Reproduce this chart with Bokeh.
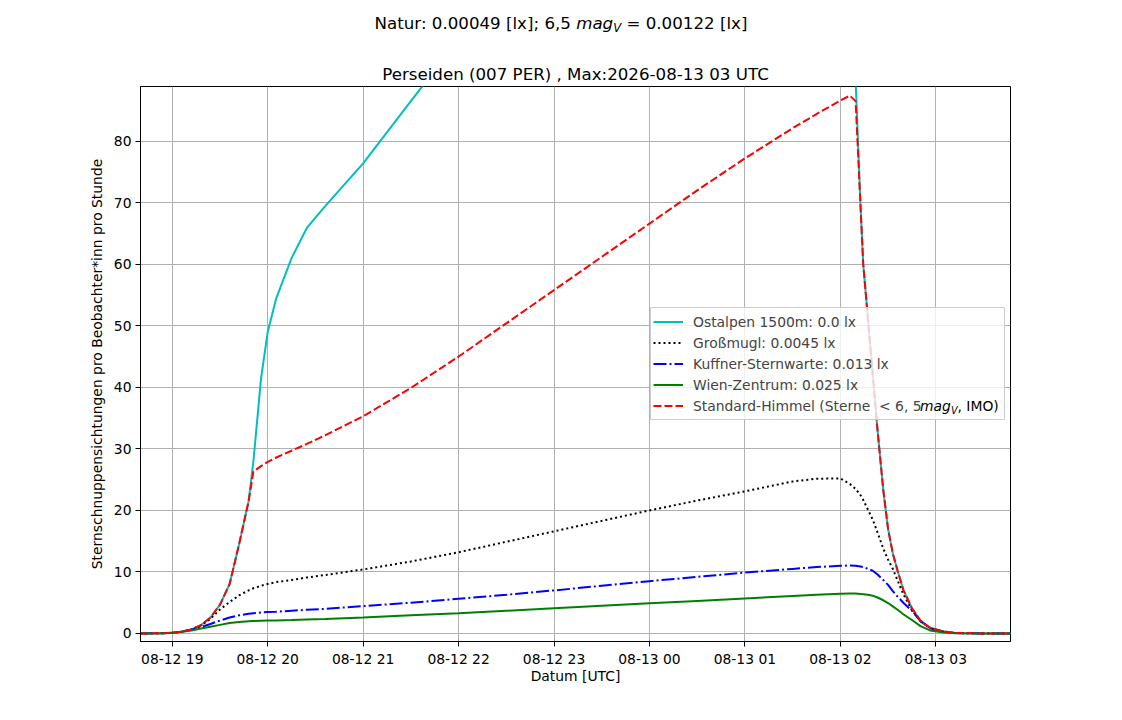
from bokeh.plotting import figure
from bokeh.models import Range1d, FixedTicker, Legend, LegendItem, Label, Div, BoxAnnotation
from bokeh.layouts import column
from bokeh.embed import file_html
from bokeh.resources import INLINE

# ---------------- data (hours after 2026-08-12 00:00 UTC) ----------------
HOURS = [18.667, 18.9, 19.0, 19.1, 19.2, 19.3, 19.4, 19.5, 19.6, 19.7,
         19.8, 19.85, 19.93, 20.0, 20.09, 20.25, 20.41, 20.6, 21.0, 21.5,
         22.0, 22.5, 23.0, 23.5, 24.0, 24.5, 25.0, 25.5, 25.75,
         26.0, 26.1, 26.16, 26.21, 26.24, 26.29, 26.34, 26.39, 26.45, 26.5,
         26.55, 26.6, 26.66, 26.75, 26.84, 26.94, 27.08, 27.2, 27.5, 27.783]

STANDARD = [0.0, 0.05, 0.12, 0.3, 0.65, 1.35, 2.6, 4.7, 8.0, 14.5,
            21.5, 26.3, 27.2, 27.9, 28.6, 29.7, 30.8, 32.2, 35.3, 39.9,
            45.0, 50.4, 55.8, 61.2, 66.6, 72.0, 77.2, 82.1, 84.4,
            86.6, 87.4, 86.5, 70.0, 60.0, 51.0, 42.0, 33.0, 23.3, 17.0,
            13.0, 10.2, 7.1, 4.1, 2.1, 0.93, 0.33, 0.1, 0.01, 0.0]

OSTALPEN = [0.0, 0.05, 0.12, 0.3, 0.65, 1.35, 2.6, 4.7, 8.0, 14.5,
            21.5, 28.0, 41.4, 49.0, 54.5, 61.0, 65.9, 69.4, 76.4, 86.5,
            96.5, 107.0, 117.0, 128.0, 139.0, 150.0, 161.0, 172.0, 177.0,
            181.0, 184.0, 90.0, 70.0, 60.0, 51.0, 42.0, 33.0, 23.3, 17.0,
            13.0, 10.2, 7.1, 4.1, 2.1, 0.93, 0.33, 0.1, 0.01, 0.0]

GROSSMUGL = [0.0, 0.05, 0.12, 0.3, 0.65, 1.3, 2.4, 3.9, 5.1, 6.2,
             7.0, 7.35, 7.75, 8.05, 8.35, 8.7, 9.1, 9.5, 10.4, 11.7,
             13.2, 14.9, 16.6, 18.3, 20.0, 21.6, 23.1, 24.7, 25.15,
             25.2, 24.3, 23.5, 22.5, 21.7, 20.1, 18.5, 16.4, 13.8, 12.0,
             10.5, 8.6, 6.4, 3.8, 2.0, 0.88, 0.3, 0.08, 0.01, 0.0]

KUFFNER = [0.0, 0.05, 0.12, 0.3, 0.6, 1.05, 1.55, 2.1, 2.6, 2.95,
           3.2, 3.3, 3.4, 3.48, 3.55, 3.7, 3.85, 4.0, 4.45, 5.0,
           5.65, 6.3, 7.0, 7.75, 8.5, 9.2, 9.9, 10.5, 10.8,
           11.0, 11.05, 11.0, 10.9, 10.8, 10.5, 10.2, 9.6, 8.7, 7.9,
           6.9, 6.0, 5.0, 3.7, 2.0, 0.85, 0.3, 0.08, 0.01, 0.0]

WIEN = [0.0, 0.05, 0.12, 0.28, 0.5, 0.8, 1.1, 1.4, 1.7, 1.88,
        1.98, 2.02, 2.07, 2.1, 2.13, 2.2, 2.28, 2.37, 2.6, 2.95,
        3.3, 3.7, 4.1, 4.5, 4.9, 5.3, 5.7, 6.1, 6.3,
        6.45, 6.5, 6.48, 6.42, 6.38, 6.3, 6.15, 5.85, 5.4, 4.95,
        4.4, 3.85, 3.13, 2.2, 1.2, 0.5, 0.15, 0.05, 0.01, 0.0]

X_TICKS = [19, 20, 21, 22, 23, 24, 25, 26, 27]
X_TICK_LABELS = ["08-12 19", "08-12 20", "08-12 21", "08-12 22", "08-12 23",
                 "08-13 00", "08-13 01", "08-13 02", "08-13 03"]
Y_TICKS = [0, 10, 20, 30, 40, 50, 60, 70, 80]

LEGEND_LABELS = ["Ostalpen 1500m: 0.0 lx",
                 "Großmugl: 0.0045 lx",
                 "Kuffner-Sternwarte: 0.013 lx",
                 "Wien-Zentrum: 0.025 lx",
                 "Standard-Himmel (Sterne  < 6, 5"]

FONT = "DejaVu Sans"
FS = "13.89px"

# ---------------- figure ----------------
p = figure(width=1106, height=664, output_backend="svg", toolbar_location=None,
           x_range=Range1d(18.667, 27.783), y_range=Range1d(-1.3, 88.88),
           min_border_left=140, min_border_right=96,
           min_border_top=38, min_border_bottom=71,
           title="Perseiden (007 PER) , Max:2026-08-13 03 UTC")
p.background_fill_color = "white"
p.border_fill_color = "white"
p.outline_line_color = "black"
p.outline_line_width = 1

p.title.text_font = FONT
p.title.text_font_size = "16.67px"
p.title.text_font_style = "normal"
p.title.text_color = "black"
p.title.align = "center"
p.title.standoff = 5

for ax in (p.xaxis, p.yaxis):
    ax.axis_line_color = "black"
    ax.major_tick_line_color = "black"
    ax.major_tick_out = 5
    ax.major_tick_in = 0
    ax.minor_tick_out = 0
    ax.minor_tick_in = 0
    ax.major_label_text_font = FONT
    ax.major_label_text_font_size = FS
    ax.major_label_text_color = "black"
    ax.axis_label_text_font = FONT
    ax.axis_label_text_font_size = FS
    ax.axis_label_text_font_style = "normal"
    ax.axis_label_text_color = "black"
    ax.major_label_standoff = 4

p.xaxis.ticker = FixedTicker(ticks=X_TICKS)
p.xaxis.major_label_overrides = dict(zip(X_TICKS, X_TICK_LABELS))
p.yaxis.ticker = FixedTicker(ticks=Y_TICKS)
p.xaxis.axis_label = "Datum [UTC]"
p.yaxis.axis_label = "Sternschnuppensichtungen pro Beobachter*inn pro Stunde"
p.xaxis.axis_label_standoff = -2
p.yaxis.axis_label_standoff = 6

for g in (p.xgrid, p.ygrid):
    g.grid_line_color = "#b0b0b0"
    g.grid_line_width = 1

r_c = p.line(HOURS, OSTALPEN, line_color="#00bfbf", line_width=2)
r_k = p.line(HOURS, GROSSMUGL, line_color="black", line_width=2, line_dash="2 3")
r_b = p.line(HOURS, KUFFNER, line_color="#0000ff", line_width=2, line_dash="13 3 2 3")
r_g = p.line(HOURS, WIEN, line_color="#008000", line_width=2)
r_r = p.line(HOURS, STANDARD, line_color="#ff0000", line_width=2, line_dash="8 3")

# legend frame (drawn separately so that the math-text overlay sits above it)
LEG_LEFT, LEG_BOTTOM, LEG_W, LEG_H = 510, 222, 354, 112
p.add_layout(BoxAnnotation(left=LEG_LEFT, right=LEG_LEFT + LEG_W,
                           bottom=LEG_BOTTOM, top=LEG_BOTTOM + LEG_H,
                           left_units="screen", right_units="screen",
                           bottom_units="screen", top_units="screen",
                           fill_color="white", fill_alpha=0.8,
                           line_color="#cccccc", line_width=1, line_alpha=1.0))

renderers = [r_c, r_k, r_b, r_g, r_r]
legend = Legend(items=[LegendItem(label=l, renderers=[r]) for l, r in zip(LEGEND_LABELS, renderers)],
                location=(LEG_LEFT, LEG_BOTTOM), margin=0, padding=3, spacing=0,
                glyph_width=30, glyph_height=21, label_height=21, label_width=307,
                label_standoff=10, label_text_font=FONT, label_text_font_size=FS,
                border_line_alpha=0.0, background_fill_alpha=0.0)
p.add_layout(legend)

ROW5_Y = 235.5
MAG_X = 779.5
p.add_layout(Label(x=MAG_X, y=ROW5_Y, x_units="screen", y_units="screen", text="mag",
                   text_font=FONT, text_font_size=FS, text_font_style="italic",
                   text_color="black", text_baseline="middle", text_align="left"))
p.add_layout(Label(x=MAG_X + 30.9, y=ROW5_Y - 4, x_units="screen", y_units="screen", text="V",
                   text_font=FONT, text_font_size="9.7px", text_font_style="italic",
                   text_color="black", text_baseline="middle", text_align="left"))
p.add_layout(Label(x=MAG_X + 37.5, y=ROW5_Y, x_units="screen", y_units="screen", text=", IMO)",
                   text_font=FONT, text_font_size=FS, text_color="black",
                   text_baseline="middle", text_align="left"))

sup = Div(text=("<div style=\"box-sizing:border-box;width:1106px;padding-left:16px;"
                "text-align:center;font-family:'DejaVu Sans';font-size:16.67px;"
                "line-height:20px;padding-top:13.5px;color:#000\">"
                "Natur: 0.00049 [lx]; 6,5 <i>mag<span style=\"font-size:11.7px;"
                "vertical-align:-2.5px\">V</span></i> = 0.00122 [lx]</div>"),
          width=1106, height=48, margin=(0, 0, 0, 0))

layout = column(sup, p, spacing=0)
open("out.html", "w").write(file_html(layout, INLINE))
